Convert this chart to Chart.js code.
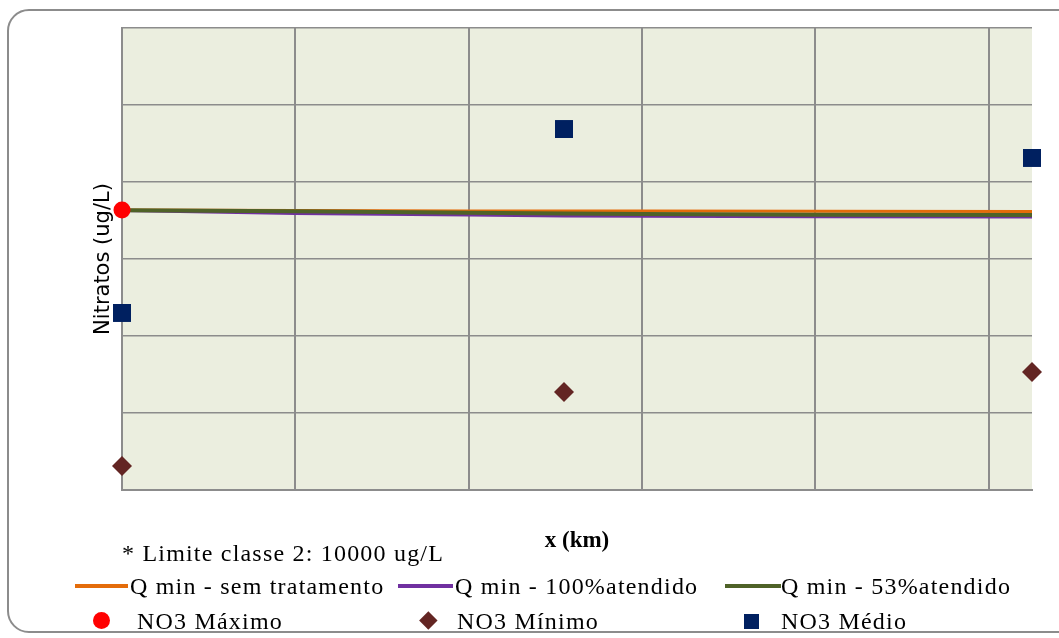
<!DOCTYPE html>
<html>
<head>
<meta charset="utf-8">
<script src="https://cdn.jsdelivr.net/npm/chart.js@4.4.1/dist/chart.umd.min.js"></script>
<style>
  html, body { margin: 0; padding: 0; background: #fff; }
  #wrap { position: relative; width: 1059px; height: 638px; overflow: hidden; }
  #frame { position: absolute; left: 7px; top: 9px; width: 1080px; height: 624px;
           border: 2px solid #8c8c8c; border-radius: 22px; box-sizing: border-box; }
  canvas { position: absolute; left: 0; top: 0; }
  .txt { position: absolute; font-family: "Liberation Serif", "Times New Roman", serif;
         font-size: 24px; line-height: 24px; letter-spacing: 1.2px; color: #000; white-space: nowrap; }
  .sw { position: absolute; }
</style>
</head>
<body>
<div id="wrap">
  <div id="frame"></div>
  <canvas id="c" width="1059" height="638"></canvas>
  <div id="legend"></div>
</div>
<script>
// ---- data (x in km, y in ug/L) ----
const lineX = [0, 10, 20, 25.5, 30, 40, 52.5];
const semTratamento = [3636, 3630, 3625, 3623, 3622, 3620, 3617];
const atendido100   = [3630, 3590, 3570, 3560, 3556, 3550, 3545];
const atendido53    = [3632, 3620, 3600, 3591, 3585, 3576, 3571];

const no3MaxX = [0];
const no3Max  = [3636];
const no3MinX = [0, 25.5, 52.5];
const no3Min  = [312, 1273, 1532];
const no3MedX = [0, 25.5, 52.5];
const no3Med  = [2299, 4688, 4312];

const seriesLabels = ["Q min - sem tratamento", "Q min - 100%atendido", "Q min - 53%atendido",
                      "NO3 Máximo", "NO3 Mínimo", "NO3 Médio"];
const yTitle = "Nitratos (ug/L)";
const xTitle = "x (km)";
const footnote = "* Limite classe 2: 10000 ug/L";

// ---- styles ----
const COLORS = ["#E46C0A", "#7030A0", "#4F6228", "#FF0000", "#632523", "#002060"];

const pts = (xs, ys) => xs.map((x, i) => ({ x: x, y: ys[i] }));

const bgPlugin = {
  id: 'plotBg',
  beforeDraw(chart) {
    const { ctx, chartArea: a } = chart;
    ctx.save();
    ctx.fillStyle = '#EBEEDF';
    ctx.fillRect(a.left, a.top, a.right - a.left, a.bottom - a.top);
    ctx.restore();
  }
};

const lineDs = (i, data, order, w) => ({
  type: 'line', label: seriesLabels[i], data: pts(lineX, data),
  borderColor: COLORS[i], backgroundColor: COLORS[i], borderWidth: w,
  pointRadius: 0, tension: 0, order: order, clip: false
});
const markDs = (i, xs, ys, style, r) => ({
  type: 'scatter', label: seriesLabels[i], data: pts(xs, ys),
  backgroundColor: COLORS[i], borderColor: COLORS[i], borderWidth: 0,
  pointStyle: style, pointRadius: r, pointHoverRadius: r, order: 0, clip: false
});

new Chart(document.getElementById('c'), {
  type: 'scatter',
  data: {
    datasets: [
      lineDs(0, semTratamento, 3, 3),
      lineDs(1, atendido100, 2, 3),
      lineDs(2, atendido53, 1, 4),
      markDs(3, no3MaxX, no3Max, 'circle', 8.5),
      markDs(4, no3MinX, no3Min, 'rectRot', 10),
      markDs(5, no3MedX, no3Med, 'rect', 12.7)
    ]
  },
  options: {
    responsive: false,
    animation: false,
    devicePixelRatio: 1,
    layout: { padding: { left: 87.4, top: 28, right: 27, bottom: 83.2 } },
    plugins: { legend: { display: false }, tooltip: { enabled: false } },
    scales: {
      x: {
        type: 'linear', min: 0, max: 52.5,
        ticks: { display: false, stepSize: 10 },
        grid: {
          drawTicks: false, lineWidth: 2,
          color: (c) => (c.tick && c.tick.value > 50) ? 'rgba(0,0,0,0)' : '#8c8c8c'
        },
        border: { display: true, color: '#8c8c8c', width: 2 },
        title: {
          display: true, text: xTitle, color: '#000',
          font: { family: '"Liberation Serif", serif', size: 23, weight: 'bold' },
          padding: { top: 37.2, bottom: 0 }
        }
      },
      y: {
        type: 'linear', min: 0, max: 6000,
        ticks: { display: false, stepSize: 1000 },
        grid: { drawTicks: false, lineWidth: 1.5, color: '#8c8c8c' },
        border: { display: true, color: '#8c8c8c', width: 2 },
        title: {
          display: true, text: yTitle, color: '#000',
          font: { family: '"DejaVu Sans", sans-serif', size: 21 },
          padding: { top: 4, bottom: 5.4 }
        }
      }
    }
  },
  plugins: [bgPlugin]
});

// ---- HTML legend and footnote ----
const leg = document.getElementById('legend');
function addText(t, left, top) {
  const d = document.createElement('div');
  d.className = 'txt'; d.textContent = t;
  d.style.left = left + 'px'; d.style.top = top + 'px';
  leg.appendChild(d);
}
function addSw(css) {
  const d = document.createElement('div');
  d.className = 'sw';
  Object.assign(d.style, css);
  leg.appendChild(d);
}
addText(footnote, 122, 541);
// row 1 - lines
addSw({ left: '75px', top: '584px', width: '53px', height: '4px', background: COLORS[0] });
addText(seriesLabels[0], 130, 574);
addSw({ left: '398px', top: '584px', width: '55px', height: '4px', background: COLORS[1] });
addText(seriesLabels[1], 455, 574);
addSw({ left: '725px', top: '584px', width: '56px', height: '4px', background: COLORS[2] });
addText(seriesLabels[2], 781, 574);
// row 2 - markers
addSw({ left: '92.5px', top: '611.5px', width: '17px', height: '17px', borderRadius: '50%', background: COLORS[3] });
addText(seriesLabels[3], 137, 609);
addSw({ left: '421.6px', top: '613.6px', width: '12.7px', height: '12.7px', transform: 'rotate(45deg)', background: COLORS[4] });
addText(seriesLabels[4], 457, 609);
addSw({ left: '744px', top: '613.5px', width: '15px', height: '15px', background: COLORS[5] });
addText(seriesLabels[5], 781, 609);
</script>
</body>
</html>
